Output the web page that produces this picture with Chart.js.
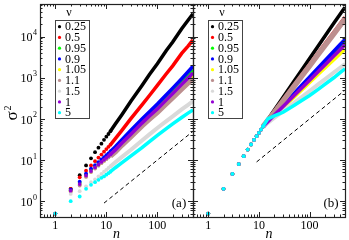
<!DOCTYPE html>
<html>
<head>
<meta charset="utf-8">
<script src="https://cdn.jsdelivr.net/npm/chart.js@4.4.1/dist/chart.umd.min.js"></script>
<style>
  html, body { margin: 0; padding: 0; background: #fff; }
  #wrap { position: relative; width: 349px; height: 240px; }
  #wrap canvas { position: absolute; left: 0; top: 0; }
</style>
</head>
<body>
<div id="wrap">
  <canvas id="chartA" width="349" height="240"></canvas>
  <canvas id="chartB" width="349" height="240"></canvas>
</div>
<script>

// legend entries (nu) and their colours
const nuLabels = ['0.25', '0.5', '0.95', '0.9', '1.05', '1.1', '1.5', '1', '5'];
const nuColors = ['#000000', '#ff0000', '#00ff00', '#0000ff', '#ffff00', '#bc8f8f', '#d9d9d9', '#9400d3', '#00ffff'];
const lineWidths = [3.5, 3.5, 3.5, 3.5, 3.5, 5.5, 4, 3.5, 3.5];

// n values: separate points at small n, then the dense part that reads as a line
const nDots = [1, 2, 3, 4, 5, 6, 7, 8, 9, 10, 11, 12];
const nLine = [15, 20, 30, 50, 70, 100, 150, 200, 300, 400, 500];

// axis tick labels
const xTickLabels = [1, 10, 100];
const yTickExps = [0, 1, 2, 3, 4];

// panel (a), sigma^2 per nu
const dotsA_025 = [0.5, 2.0, 4.3, 7.4, 11, 15.5, 20, 25, 31, 37, 43, 50];
const lineA_025 = [75, 125, 265, 650, 1200, 2200, 4600, 7400, 15500, 25000, 36000];
const dotsA_05 = [0.5, 2.0, 3.8, 5.5, 7.4, 9.4, 11.5, 13.6, 16, 18.5, 21, 23.5];
const lineA_05 = [33, 52, 100, 220, 370, 650, 1250, 1950, 3900, 5900, 8300];
const dotsA_095 = [0.5, 1.85, 2.8, 4.5, 5.9, 7.2, 8.5, 9.8, 11.1, 12.4, 13.8, 15.2];
const lineA_095 = [19.5, 28.5, 48, 90, 135, 205, 340, 490, 820, 1180, 1550];
const dotsA_09 = [0.5, 1.9, 3.0, 4.7, 6.2, 7.5, 8.9, 10.3, 11.7, 13.1, 14.6, 16.2];
const lineA_09 = [21, 31, 52, 100, 150, 230, 385, 560, 950, 1400, 1900];
const dotsA_105 = [0.5, 1.75, 2.5, 4.0, 5.2, 6.3, 7.4, 8.5, 9.6, 10.7, 11.8, 13.0];
const lineA_105 = [16.5, 24, 39, 72, 106, 158, 258, 365, 600, 850, 1100];
const dotsA_11 = [0.5, 1.7, 2.4, 3.9, 5.1, 6.2, 7.3, 8.4, 9.5, 10.5, 11.6, 12.7];
const lineA_11 = [16, 23, 37, 68, 99, 146, 236, 330, 540, 760, 950];
const dotsA_15 = [0.5, 1.5, 1.75, 2.3, 2.9, 3.4, 4.0, 4.6, 5.2, 5.8, 6.4, 7.0];
const lineA_15 = [8.8, 11.8, 17.5, 30, 42, 60, 88, 115, 170, 220, 270];
const dotsA_1 = [0.5, 1.8, 2.6, 4.2, 5.4, 6.6, 7.8, 9.0, 10.1, 11.3, 12.5, 13.7];
const lineA_1 = [17.5, 25.5, 42, 79, 117, 175, 290, 415, 690, 990, 1300];
const dotsA_5 = [0.5, 1.0, 1.3, 2.0, 2.5, 2.9, 3.3, 3.7, 4.0, 4.4, 4.8, 5.2];
const lineA_5 = [6.5, 8.5, 12.5, 20, 28, 40, 58, 76, 108, 138, 165];

// panel (b): all nu share the early points, then fan out
const dotsB = [0.5, 2.0, 4.6, 8.0, 12.4, 18, 24, 31, 38, 46, 55, 65];
const lineB_025 = [97, 163, 338, 850, 1550, 2950, 6100, 10200, 21000, 35000, 52000];
const lineB_05 = [94, 150, 293, 675, 1170, 2100, 4100, 6560, 12700, 20400, 29400];
const lineB_095 = [86, 124, 208, 398, 610, 956, 1610, 2310, 3870, 5600, 7400];
const lineB_09 = [87, 127, 216, 423, 656, 1040, 1780, 2590, 4410, 6420, 8580];
const lineB_105 = [84, 118, 189, 342, 506, 767, 1230, 1720, 2760, 3850, 5010];
const lineB_11 = [92, 142, 275, 630, 1090, 1950, 3800, 6050, 11700, 18800, 27000];
const lineB_15 = [80, 105, 154, 249, 341, 476, 700, 910, 1340, 1750, 2160];
const lineB_1 = [85, 122, 200, 375, 565, 870, 1440, 2050, 3370, 4790, 6330];
const lineB_5 = [100, 118, 145, 215, 280, 370, 530, 690, 1000, 1330, 1650];

// slope-1 guide lines
const dashA_n = [9, 500];
const dashA_s = [0.9, 50];
const dashB_n = [9, 500];
const dashB_s = [9, 500];

const seriesA = [
  [dotsA_025, lineA_025], [dotsA_05, lineA_05], [dotsA_095, lineA_095],
  [dotsA_09, lineA_09], [dotsA_105, lineA_105], [dotsA_11, lineA_11],
  [dotsA_15, lineA_15], [dotsA_1, lineA_1], [dotsA_5, lineA_5]
];
const seriesB = [
  [dotsB, lineB_025], [dotsB, lineB_05], [dotsB, lineB_095],
  [dotsB, lineB_09], [dotsB, lineB_105], [dotsB, lineB_11],
  [dotsB, lineB_15], [dotsB, lineB_1], [dotsB, lineB_5]
];

const SERIF = '"Liberation Serif", "DejaVu Serif", serif';
const X_MIN = 0.5, X_MAX = 500, Y_MIN = 0.413, Y_MAX = 62000;


function buildDatasets(series, dashN, dashS){
  let datasets = [];

  series.forEach(function(s, i){
    let pts = [];
    nDots.forEach(function(n, k){ pts.push({x: n, y: s[0][k]}); });
    nLine.forEach(function(n, k){ pts.push({x: n, y: s[1][k]}); });

    datasets.push({
      label: nuLabels[i],
      data: pts,
      showLine: true,
      borderColor: nuColors[i],
      borderWidth: lineWidths[i],
      backgroundColor: nuColors[i],
      pointBackgroundColor: nuColors[i],
      pointBorderWidth: 0,
      pointRadius: function(ctx){ return ctx.raw && ctx.raw.x <= 12 ? 1.9 : 0; },
      segment: {
        borderColor: function(ctx){ return ctx.p0.parsed.x < 12 ? 'rgba(0,0,0,0)' : undefined; }
      },
      order: 20 - i
    });
  });

  datasets.push({
    label: 'guide',
    data: dashN.map(function(n, k){ return {x: n, y: dashS[k]}; }),
    showLine: true,
    borderColor: '#000',
    borderWidth: 1,
    borderDash: [4, 3],
    pointRadius: 0,
    order: 30
  });

  return datasets;
}


// frame with inward ticks on all sides, tick labels, legend and panel tag
const framePlugin = {
  id: 'frame',
  afterDraw: function(chart, args, opts){
    const ctx = chart.ctx;
    const a = chart.chartArea;
    const xs = chart.scales.x, ys = chart.scales.y;

    ctx.save();
    ctx.strokeStyle = '#222';
    ctx.lineWidth = 1.2;

    // border
    ctx.strokeRect(a.left + 0.5, a.top + 0.5, a.right - a.left, a.bottom - a.top);

    // ticks
    ctx.lineWidth = 1;
    ctx.beginPath();
    for(let e = -1; e <= 5; e++){
      for(let k = 1; k <= 9; k++){
        let v = k * Math.pow(10, e);
        let len = k == 1 ? 5 : 2.5;
        if(v >= X_MIN && v <= X_MAX){
          let px = Math.round(xs.getPixelForValue(v)) + 0.5;
          ctx.moveTo(px, a.bottom); ctx.lineTo(px, a.bottom - len);
          ctx.moveTo(px, a.top); ctx.lineTo(px, a.top + len);
        }
        if(v >= Y_MIN && v <= Y_MAX){
          let py = Math.round(ys.getPixelForValue(v)) + 0.5;
          ctx.moveTo(a.left, py); ctx.lineTo(a.left + len, py);
          ctx.moveTo(a.right, py); ctx.lineTo(a.right - len, py);
        }
      }
    }
    ctx.stroke();

    ctx.fillStyle = '#000';

    // x tick labels
    ctx.font = '12px ' + SERIF;
    ctx.textAlign = 'center';
    ctx.textBaseline = 'middle';
    xTickLabels.forEach(function(v){
      ctx.fillText(String(v), xs.getPixelForValue(v), 226);
    });

    // x title
    ctx.font = 'italic 14px ' + SERIF;
    ctx.fillText('n', (a.left + a.right) / 2, 234);

    // y tick labels and title, left panel only
    if(opts.yLabels){
      yTickExps.forEach(function(e){
        let py = ys.getPixelForValue(Math.pow(10, e));
        ctx.font = '12px ' + SERIF;
        ctx.textAlign = 'right';
        ctx.fillText('10', 32.5, py + 1.5);
        ctx.font = '8px ' + SERIF;
        ctx.textAlign = 'left';
        ctx.fillText(String(e), 33, py - 3.5);
      });

      ctx.save();
      ctx.translate(13, 116);
      ctx.rotate(-Math.PI / 2);
      ctx.textAlign = 'center';
      ctx.font = '17px ' + SERIF;
      ctx.fillText('\u03c3', 0, 0);
      ctx.font = '10px ' + SERIF;
      ctx.fillText('2', 8, -5);
      ctx.restore();
    }

    // legend
    let lx = a.left + 15;
    ctx.fillStyle = '#fff';
    ctx.fillRect(lx, 20, 34, 98);
    ctx.strokeStyle = '#444';
    ctx.strokeRect(lx + 0.5, 20.5, 34, 98);

    ctx.fillStyle = '#000';
    ctx.font = '12px ' + SERIF;
    ctx.textAlign = 'center';
    ctx.fillText('\u03bd', a.left + 29, 13);

    ctx.textAlign = 'left';
    nuLabels.forEach(function(lab, i){
      let ey = 26.7 + 10.75 * i;
      ctx.fillStyle = nuColors[i];
      ctx.beginPath();
      ctx.arc(lx + 4.5, ey, 1.6, 0, 2 * Math.PI);
      ctx.fill();
      ctx.fillStyle = '#000';
      ctx.fillText(lab, lx + 10, ey + 0.5);
    });

    // panel tag
    ctx.font = '13px ' + SERIF;
    ctx.textAlign = 'center';
    ctx.fillText(opts.tag, a.right - 14, 204);

    ctx.restore();
  }
};


function makeChart(canvasId, datasets, padding, opts){
  return new Chart(document.getElementById(canvasId), {
    type: 'scatter',
    data: {datasets: datasets},
    options: {
      responsive: false,
      animation: false,
      layout: {padding: padding},
      plugins: {
        legend: {display: false},
        tooltip: {enabled: false},
        frame: opts
      },
      scales: {
        x: {type: 'logarithmic', min: X_MIN, max: X_MAX, display: false},
        y: {type: 'logarithmic', min: Y_MIN, max: Y_MAX, display: false}
      }
    },
    plugins: [framePlugin]
  });
}

makeChart('chartA', buildDatasets(seriesA, dashA_n, dashA_s),
  {left: 40, right: 156, top: 1, bottom: 23}, {yLabels: true, tag: '(a)'});

makeChart('chartB', buildDatasets(seriesB, dashB_n, dashB_s),
  {left: 193, right: 3, top: 1, bottom: 23}, {yLabels: false, tag: '(b)'});

</script>
</body>
</html>
